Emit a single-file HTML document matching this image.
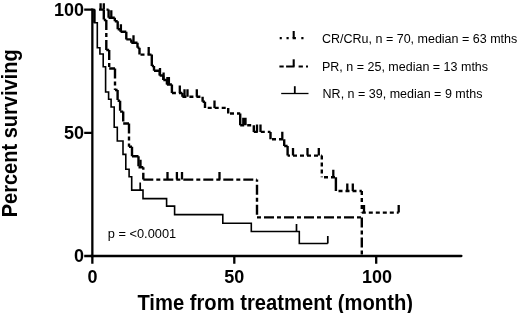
<!DOCTYPE html>
<html><head><meta charset="utf-8"><style>
html,body{margin:0;padding:0;background:#fff;width:520px;height:313px;overflow:hidden}
svg{display:block;will-change:transform}
text{font-family:"Liberation Sans",sans-serif}
</style></head><body>
<svg width="520" height="313" viewBox="0 0 520 313">
<rect width="520" height="313" fill="#fff"/>
<g stroke="#000" stroke-width="2.3" fill="none" stroke-linecap="butt">
<path d="M92.35 8.45V257.15"/>
<path d="M91.2 256H461.4" stroke-linecap="round"/>
<path d="M84.2 9.6H92.35M84.2 132.8H92.35M84.2 256H92.35"/>
<path d="M92.35 256V263.7M234.3 256V263.7M376.2 256V263.7"/>
</g>
<path d="M171.9 93.0H182.4M182.4 96.8H202.6M240.2 125.3H253.8M253.8 131.9H270.5M321.8 155.6V177.3M361.8 191.0V212.6M361.8 212.6H398.7" fill="none" stroke="#000" stroke-width="2.4" stroke-dasharray="4 3"/>
<path d="M106.5 9.6H108.6M108.6 9.6V17.7M108.6 17.7H114.8M114.8 17.7V21.2M114.8 21.2H117.7M117.7 21.2V29.3M117.7 29.3H120.6M120.6 29.3V31.7M120.6 31.7H126.3M126.3 31.7V39.4M126.3 39.4H131.3M131.3 39.4V42.8M131.3 42.8H137.5M137.5 42.8V47.8M137.5 47.8H139.5M139.5 47.8V54.6M151.8 54.6V66.0M151.8 66.0H154.0M154.0 66.0V70.8M154.0 70.8H159.7M159.7 70.8V75.5M159.7 75.5H163.3M163.3 75.5V80.0M163.3 80.0H166.9M166.9 80.0V84.5M166.9 84.5H171.9M171.9 84.5V93.0M182.4 93.0V96.8M202.6 96.8V101.8M202.6 101.8H205.0M205.0 101.8V107.9M228.2 107.9V113.5M240.2 113.5V125.3M253.8 125.3V131.9M270.5 131.9V139.3M284.2 139.3V146.0M284.2 146.0H287.6M287.6 146.0V155.6M335.9 177.3V191.0" fill="none" stroke="#000" stroke-width="2.4"/>
<path d="M139.5 54.6H151.8" fill="none" stroke="#000" stroke-width="2.4" stroke-dasharray="4 3" stroke-dashoffset="6"/>
<path d="M205.0 107.9H228.2" fill="none" stroke="#000" stroke-width="2.4" stroke-dasharray="4 3" stroke-dashoffset="4.3"/>
<path d="M228.2 113.5H240.2" fill="none" stroke="#000" stroke-width="2.4" stroke-dasharray="4 3" stroke-dashoffset="5.2"/>
<path d="M270.5 139.3H284.2" fill="none" stroke="#000" stroke-width="2.4" stroke-dasharray="4 3" stroke-dashoffset="5.5"/>
<path d="M287.6 155.6H321.8" fill="none" stroke="#000" stroke-width="2.4" stroke-dasharray="4 3" stroke-dashoffset="1.6"/>
<path d="M321.8 177.3H335.9" fill="none" stroke="#000" stroke-width="2.4" stroke-dasharray="4 3" stroke-dashoffset="4.8"/>
<path d="M335.9 191.0H361.8" fill="none" stroke="#000" stroke-width="2.4" stroke-dasharray="4 3" stroke-dashoffset="4.4"/>
<path d="M111.3 17.7V10.2M120.9 31.7V24.2M133.5 42.8V35.3M148.7 54.6V47.1M160.0 75.5V68.0M163.6 80.0V72.5M167.4 84.5V77.0M168.9 84.5V77.0M179.8 93.0V85.5M184.5 96.8V89.3M187.5 96.8V89.3M196.8 96.8V89.3M214.5 107.9V100.4M243.3 125.3V117.8M245.5 125.3V117.8M257.0 131.9V124.4M260.5 131.9V124.4M282.3 139.3V131.8M293.0 155.6V148.1M307.5 155.6V148.1M318.8 155.6V148.1M333.3 177.3V169.8M347.3 191.0V183.5M352.8 191.0V183.5M364.0 212.6V205.1M398.7 212.6V205.1" fill="none" stroke="#000" stroke-width="2.3"/>
<path d="M103.8 9.6V20.0M106.3 20.0V50.0M109.2 50.0V68.5M115.0 68.5V90.0M117.6 90.0V100.8M120.1 100.8V111.6M123.2 111.6V123.5M129.0 123.5V146.7M132.0 146.7V156.3M138.5 156.3V167.2M143.3 179.6H257.0M361.8 217.4V256.0" fill="none" stroke="#000" stroke-width="2.4" stroke-dasharray="10 3 4 3"/>
<path d="M99.0 9.6H103.8M103.8 20.0H106.3M106.3 50.0H109.2M109.2 68.5H115.0M115.0 90.0H117.6M117.6 100.8H120.1M120.1 111.6H123.2M123.2 123.5H129.0M129.0 146.7H132.0M132.0 156.3H138.5M138.5 167.2H143.3" fill="none" stroke="#000" stroke-width="2.4"/>
<path d="M143.3 167.2V179.6" fill="none" stroke="#000" stroke-width="2.4" stroke-dasharray="10 3 4 3" stroke-dashoffset="14.4"/>
<path d="M257.0 179.6V217.4" fill="none" stroke="#000" stroke-width="2.4" stroke-dasharray="10 3 4 3" stroke-dashoffset="14.8"/>
<path d="M257.0 217.4H361.8" fill="none" stroke="#000" stroke-width="2.4" stroke-dasharray="10 3 4 3" stroke-dashoffset="13"/>
<path d="M140.5 167.2V159.7M167.5 179.6V172.1M176.9 179.6V172.1M182.0 179.6V172.1M219.5 179.6V172.1" fill="none" stroke="#000" stroke-width="2.3"/>
<path d="M92.4 9.6H94.4V22.8H97.3V47.8H99.9V54.0H103.2V66.8H105.6V92.0H108.6V99.3H111.1V107.0H114.2V127.2H117.3V141.0H123.0V154.4H125.8V169.2H129.1V176.8H131.7V190.1H143.0V198.6H166.6V206.1H174.6V214.6H222.8V223.2H251.3V231.5H299.3V243.5H327.8" fill="none" stroke="#000" stroke-width="1.6"/>
<path d="M140.2 190.1V182.6M296.5 231.5V224.0M327.8 243.5V236.0" fill="none" stroke="#000" stroke-width="1.7"/>
<path d="M94.4 9.6V22.8" stroke="#000" stroke-width="2.4"/>
<path d="M100.6 9.6V3.2M103.8 9.6V3.2" stroke="#000" stroke-width="2.3"/>
<g fill="none" stroke="#000" stroke-width="2.1">
<path d="M279.7 38.1h2.1M286.5 38.1h2.2M292.6 38.1h3.3M301.3 38.1h2.2" />
<path d="M293.7 38.1V31"/>
<path d="M279.4 66.5h4.3M286.1 66.5h8.4M298.6 66.5h4.3M306 66.5h2" />
<path d="M293.7 66.5V59.3"/>
</g>
<path d="M281.2 93.5H308.5" stroke="#000" stroke-width="1.3"/>
<path d="M294.8 93.5V86.2" stroke="#000" stroke-width="1.8"/>
<g font-family="Liberation Sans, sans-serif" font-size="12.5" fill="#000">
<text x="322" y="42.6">CR/CRu, n = 70, median = 63 mths</text>
<text x="322" y="71.2">PR, n = 25, median = 13 mths</text>
<text x="322.6" y="98.3">NR, n = 39, median = 9 mths</text>
</g>
<text font-family="Liberation Sans, sans-serif" font-size="12.8" x="107.8" y="237.8">p = &lt;0.0001</text>
<g font-family="Liberation Sans, sans-serif" font-size="18" font-weight="bold" fill="#000">
<text x="84" y="16.2" text-anchor="end">100</text>
<text x="84" y="139.4" text-anchor="end">50</text>
<text x="84" y="261.6" text-anchor="end">0</text>
<text x="92.5" y="282.8" text-anchor="middle">0</text>
<text x="234.3" y="282.8" text-anchor="middle">50</text>
<text x="376.9" y="282.8" text-anchor="middle">100</text>
</g>
<text font-family="Liberation Sans, sans-serif" font-size="21.4" font-weight="bold" transform="translate(137.4 309.6) scale(0.944 1)">Time from treatment (month)</text>
<text font-family="Liberation Sans, sans-serif" font-size="21.2" font-weight="bold" transform="translate(17.3 217.3) rotate(-90) scale(0.944 1)">Percent surviving</text>
</svg>
</body></html>
